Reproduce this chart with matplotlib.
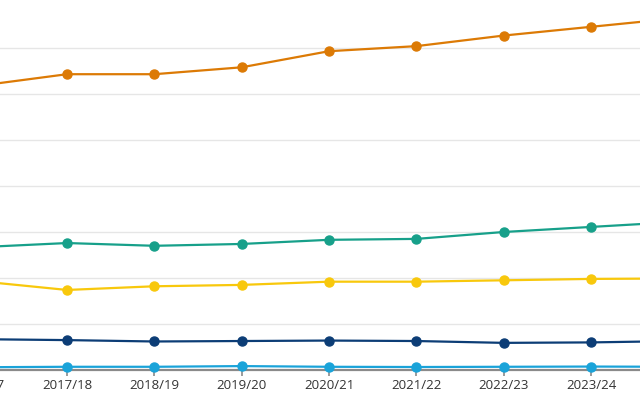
import matplotlib
matplotlib.use("Agg")
import matplotlib.pyplot as plt
import matplotlib.transforms as mtransforms
import numpy as np

years = ["2016/17", "2017/18", "2018/19", "2019/20", "2020/21",
         "2021/22", "2022/23", "2023/24", "2024/25"]

orange = [61.8, 64.3, 64.3, 65.8, 69.3, 70.4, 72.7, 74.6, 76.5]
teal = [26.7, 27.6, 27.0, 27.4, 28.3, 28.5, 30.0, 31.1, 32.2]
yellow = [19.3, 17.4, 18.2, 18.5, 19.2, 19.2, 19.5, 19.8, 19.9]
navy = [6.7, 6.5, 6.2, 6.3, 6.4, 6.3, 5.9, 6.0, 6.3]
light_blue = [0.6, 0.7, 0.7, 0.85, 0.7, 0.65, 0.7, 0.75, 0.7]

series = [
    (orange, "#dc7a05"),
    (teal, "#17a08a"),
    (yellow, "#f8c80c"),
    (navy, "#0c3d76"),
    (light_blue, "#1aa3d9"),
]

plt.rcParams["font.family"] = ["Open Sans", "DejaVu Sans"]

fig = plt.figure(figsize=(6.4, 4.0), dpi=100)
# the reference is a tight crop of a wider chart, so the axes fill the canvas
ax = fig.add_axes([0, 0, 1, 1])

x = np.arange(len(years))
for vals, col in series:
    ax.plot(x, vals, color=col, lw=1.6, marker="o", ms=6.5,
            markeredgecolor=col, zorder=3)

for g in range(10, 80, 10):
    ax.axhline(g, color="#e6e6e6", lw=1.0, zorder=1)

for s in ["top", "right", "left"]:
    ax.spines[s].set_visible(False)
ax.spines["bottom"].set_position(("data", 0))
ax.spines["bottom"].set_color("#8a8a8a")
ax.spines["bottom"].set_linewidth(1.6)
ax.spines["bottom"].set_zorder(2)

ax.set_xticks(x)
ax.set_xticklabels(years)
ax.tick_params(axis="x", length=4.5, width=1.2, color="#8a8a8a",
               labelsize=9.5, labelcolor="#333333", pad=2)
ax.set_yticks([])

# limits last, set_xticks would widen them otherwise
ax.set_xlim(0.233, 7.561)
ax.set_ylim(-6.52, 80.43)

# first category sits just past the left edge; its label peeks in, cut off
lbl_off = mtransforms.offset_copy(ax.transData, fig=fig, y=-6.5, units="points")
ax.text(x[0], 0, years[0], transform=lbl_off, ha="center", va="top",
        fontsize=9.5, color="#333333", clip_on=False)

fig.savefig("out.png", dpi=100)
